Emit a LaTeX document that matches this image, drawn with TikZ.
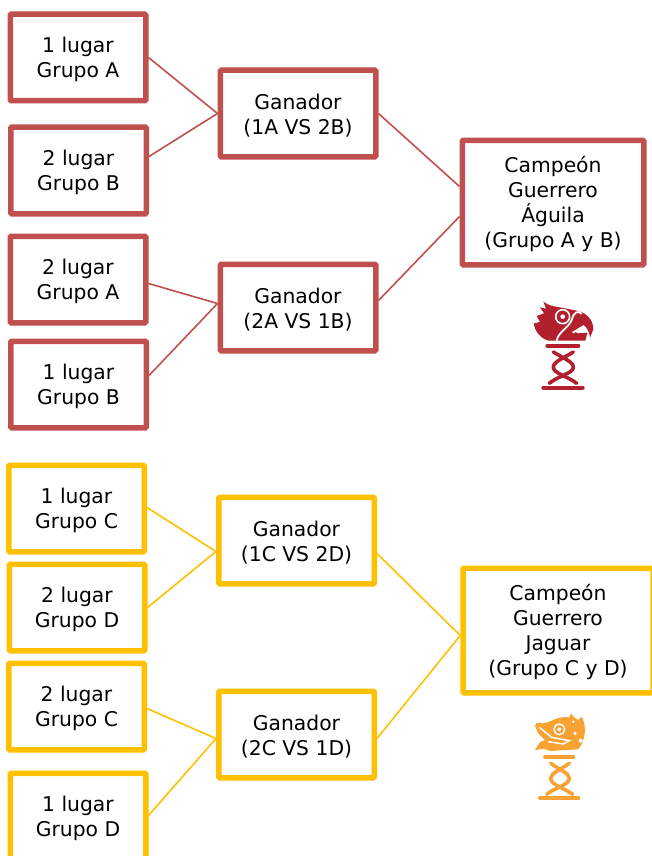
\documentclass[tikz,border=0pt]{standalone}
\usepackage{fontspec}
\setmainfont{DejaVu Sans}
\usetikzlibrary{positioning}
\definecolor{rojo}{HTML}{C0504D}
\definecolor{amarillo}{HTML}{FFC000}
\definecolor{aguila}{HTML}{B2202E}
\definecolor{jaguar}{HTML}{F8A233}
\tikzset{
    caja/.style={draw,line width=5.5pt,rounded corners=1pt,fill=white,align=center,
        font=\fontsize{20.3}{25}\selectfont,text=black,minimum width=135.5pt,minimum height=86.5pt,inner sep=0pt,
        text height=45pt},
    gana/.style={caja,minimum width=155.5pt},
    campeon/.style={caja,minimum width=181.5pt,minimum height=124.5pt,text height=95pt},
    liga/.style={line width=1.6pt},
    cinta/.style={line width=3.6pt,line cap=round},
    barra/.style={line width=4pt,line cap=round}
}
\begin{document}
\begin{tikzpicture}[x=1pt,y=-1pt]
    \useasboundingbox (0,0) rectangle (652,856);
    % grupo A y B
    \node[caja,draw=rojo] (1a) at (78,57.5) {1 lugar\\Grupo A};
    \node[caja,draw=rojo] (2b) at (78.5,170.5) {2 lugar\\Grupo B};
    \node[caja,draw=rojo] (2a) at (78,279.5) {2 lugar\\Grupo A};
    \node[caja,draw=rojo] (1b) at (78.5,384.5) {1 lugar\\Grupo B};
    \node[gana,draw=rojo] (g1) at (298,113.5) {Ganador\\(1A VS 2B)};
    \node[gana,draw=rojo] (g2) at (298,307.5) {Ganador\\(2A VS 1B)};
    \node[campeon,draw=rojo] (ca) at (553,202.5) {Campeón\\Guerrero\\Águila\\(Grupo A y B)};

    \draw[liga,color=rojo] (1a.east) -- (g1.west);
    \draw[liga,color=rojo] ([yshift=14pt]2b.east) -- (g1.west);
    \draw[liga,color=rojo] ([yshift=-4pt]2a.east) -- ([yshift=4pt]g2.west);
    \draw[liga,color=rojo] ([yshift=9pt]1b.east) -- ([yshift=4pt]g2.west);
    \draw[liga,color=rojo] (g1.east) -- ([yshift=16pt]ca.west);
    \draw[liga,color=rojo] ([yshift=7pt]g2.east) -- ([yshift=-14pt]ca.west);

    % grupo C y D
    \node[caja,draw=amarillo] (1c) at (76.5,508.5) {1 lugar\\Grupo C};
    \node[caja,draw=amarillo] (2d) at (77,607.5) {2 lugar\\Grupo D};
    \node[caja,draw=amarillo] (2c) at (76.5,706.5) {2 lugar\\Grupo C};
    \node[caja,draw=amarillo] (1d) at (78,816.5) {1 lugar\\Grupo D};
    \node[gana,draw=amarillo] (g3) at (296.5,540.5) {Ganador\\(1C VS 2D)};
    \node[gana,draw=amarillo] (g4) at (296.5,734.5) {Ganador\\(2C VS 1D)};
    \node[campeon,draw=amarillo,minimum width=190pt] (cj) at (558,630.5) {Campeón\\Guerrero\\Jaguar\\(Grupo C y D)};

    \draw[liga,color=amarillo] ([yshift=1pt]1c.east) -- ([yshift=-11pt]g3.west);
    \draw[liga,color=amarillo] (2d.east) -- ([yshift=-11pt]g3.west);
    \draw[liga,color=amarillo] ([yshift=-2pt]2c.east) -- ([yshift=-4pt]g4.west);
    \draw[liga,color=amarillo] ([yshift=1pt]1d.east) -- ([yshift=-4pt]g4.west);
    \draw[liga,color=amarillo] ([yshift=-13pt]g3.east) -- ([yshift=-5pt]cj.west);
    \draw[liga,color=amarillo] ([yshift=-4pt]g4.east) -- ([yshift=-5pt]cj.west);

    % aguila
    \begin{scope}[shift={(510,290)},x=0.3333pt,y=-0.3333pt]
        \fill[aguila] (100,35) .. controls (115,48) and (140,50) .. (165,55) -- (200,62) .. controls (230,68) and (250,90) .. (250,118)
            -- (240,143) .. controls (238,125) and (232,115) .. (222,106) -- (190,124) -- (205,130) -- (232,128) -- (226,152) -- (115,152)
            .. controls (90,145) and (72,120) .. (72,100) -- (90,96) -- (80,78) -- (102,70) -- (90,52) -- (108,56) -- cycle;
        \draw[white,line width=1.6pt] (158,80) circle (21);
        \fill[white] (158,80) circle (7);
        \draw[white,line width=1.8pt] (140,152) .. controls (145,125) and (175,115) .. (185,90) .. controls (192,65) and (205,60) .. (215,72);
        \draw[white,line width=1.8pt] (188,128) -- (222,108);
        \draw[barra,aguila] (112,167) -- (205,167);
        \draw[barra,aguila] (100,293) -- (218,293);
        \draw[cinta,aguila] (130,186) .. controls (160,205) and (190,215) .. (190,232) .. controls (190,250) and (140,260) .. (118,280);
        \draw[cinta,aguila] (190,186) .. controls (160,205) and (130,215) .. (130,232) .. controls (130,250) and (175,260) .. (200,280);
    \end{scope}

    % jaguar
    \begin{scope}[shift={(510,700)},x=0.3333pt,y=-0.3333pt]
        \fill[jaguar] (75,78) -- (80,68) -- (100,70) .. controls (125,66) and (140,48) .. (178,52) -- (183,40) -- (192,52) -- (205,60) -- (215,50)
            .. controls (230,75) and (228,120) .. (205,148) -- (120,153) -- (100,146) -- (75,150) -- (90,126) -- (105,120) -- (85,100) -- cycle;
        \draw[white,line width=1.4pt] (148,88) circle (16);
        \fill[white] (148,88) circle (6);
        \draw[white,line width=1.5pt] (88,82) -- (125,112) -- (178,122) -- (160,132) -- (115,125);
        \fill[white] (195,100) circle (5) (212,122) circle (6) (190,65) circle (4);
        \draw[barra,jaguar] (105,170) -- (190,170);
        \draw[barra,jaguar] (90,295) -- (205,295);
        \draw[cinta,jaguar] (122,190) .. controls (150,210) and (178,220) .. (178,235) .. controls (178,255) and (130,265) .. (110,283);
        \draw[cinta,jaguar] (178,190) .. controls (150,210) and (122,220) .. (122,235) .. controls (122,255) and (165,265) .. (188,283);
    \end{scope}
\end{tikzpicture}
\end{document}
